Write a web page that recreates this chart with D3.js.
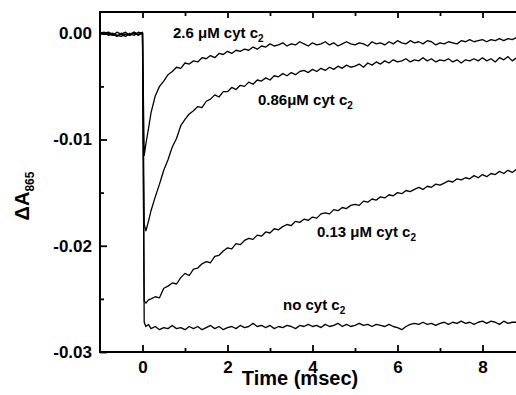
<!DOCTYPE html>
<html><head><meta charset="utf-8">
<script src="https://cdn.jsdelivr.net/npm/d3@7"></script>
<style>
body{margin:0;background:#fff}
svg{display:block}
text{font-family:"Liberation Sans",Arial,Helvetica,sans-serif;font-weight:bold;fill:#000}
</style>
</head><body>
<svg id="chart" width="516" height="395"></svg>
<script>
// time axis (ms)
const timeMs = [
 -1.0,-0.9,-0.8,-0.7,-0.6,-0.5,-0.4,-0.3,-0.2,-0.1,0.0,
 0.04,0.08,0.14,
 0.2,0.3,0.4,0.5,0.6,0.7,0.8,0.9,1.0,
 1.1,1.2,1.3,1.4,1.5,1.6,1.7,1.8,1.9,2.0,
 2.1,2.2,2.3,2.4,2.5,2.6,2.7,2.8,2.9,3.0,
 3.1,3.2,3.3,3.4,3.5,3.6,3.7,3.8,3.9,4.0,
 4.1,4.2,4.3,4.4,4.5,4.6,4.7,4.8,4.9,5.0,
 5.1,5.2,5.3,5.4,5.5,5.6,5.7,5.8,5.9,6.0,
 6.1,6.2,6.3,6.4,6.5,6.6,6.7,6.8,6.9,7.0,
 7.1,7.2,7.3,7.4,7.5,7.6,7.7,7.8,7.9,8.0,
 8.1,8.2,8.3,8.4,8.5,8.6,8.7,8.8
];
// ΔA865 traces
const cyt26 = [
 0.0001,-0.0001,0,-0.0002,0.0001,-0.0001,-0.0003,0,-0.0002,0.0001,0,
 -0.0115,-0.0104,-0.0090,
 -0.0075,-0.0059,-0.0050,-0.0045,-0.0039,-0.0036,-0.0032,-0.0033,-0.0028,
 -0.0029,-0.0026,-0.0027,-0.0023,-0.0024,-0.0021,-0.0023,-0.0019,-0.0020,-0.0017,
 -0.0019,-0.0016,-0.0017,-0.0015,-0.0016,-0.0013,-0.0015,-0.0012,-0.0013,-0.0010,
 -0.0012,-0.0011,-0.0009,-0.0012,-0.0010,-0.0011,-0.0008,-0.0010,-0.0012,-0.0009,
 -0.0011,-0.0010,-0.0008,-0.0011,-0.0009,-0.0012,-0.0010,-0.0008,-0.0010,-0.0011,
 -0.0009,-0.0010,-0.0012,-0.0008,-0.0010,-0.0009,-0.0011,-0.0008,-0.0010,-0.0007,
 -0.0009,-0.0010,-0.0007,-0.0009,-0.0008,-0.0010,-0.0007,-0.0008,-0.0011,-0.0009,
 -0.0010,-0.0008,-0.0009,-0.0010,-0.0007,-0.0008,-0.0006,-0.0008,-0.0007,-0.0006,
 -0.0008,-0.0006,-0.0007,-0.0005,-0.0007,-0.0005,-0.0006,-0.0004
];
const cyt086 = [
 0,0.0001,-0.0002,-0.0001,-0.0003,0,-0.0001,-0.0002,0.0001,-0.0001,0,
 -0.0180,-0.0186,-0.0177,
 -0.0167,-0.0154,-0.0142,-0.0129,-0.0119,-0.0107,-0.0099,-0.0087,-0.0081,
 -0.0076,-0.0073,-0.0069,-0.0070,-0.0064,-0.0062,-0.0058,-0.0060,-0.0055,-0.0055,
 -0.0051,-0.0053,-0.0049,-0.0050,-0.0046,-0.0048,-0.0044,-0.0045,-0.0042,-0.0044,
 -0.0040,-0.0041,-0.0038,-0.0040,-0.0037,-0.0039,-0.0036,-0.0035,-0.0037,-0.0034,
 -0.0036,-0.0033,-0.0035,-0.0032,-0.0034,-0.0031,-0.0033,-0.0030,-0.0032,-0.0031,
 -0.0029,-0.0032,-0.0028,-0.0030,-0.0027,-0.0029,-0.0026,-0.0028,-0.0025,-0.0027,
 -0.0026,-0.0024,-0.0027,-0.0025,-0.0026,-0.0023,-0.0026,-0.0024,-0.0027,-0.0025,
 -0.0026,-0.0024,-0.0027,-0.0025,-0.0028,-0.0025,-0.0026,-0.0024,-0.0026,-0.0023,
 -0.0026,-0.0024,-0.0027,-0.0023,-0.0025,-0.0022,-0.0026,-0.0023
];
const cyt013 = [
 -0.0001,0,0.0001,-0.0001,-0.0002,-0.0001,0.0001,-0.0002,0,-0.0001,0,
 -0.0252,-0.0254,-0.0251,
 -0.0250,-0.0248,-0.0249,-0.0240,-0.0238,-0.0235,-0.0236,-0.0230,-0.0226,
 -0.0228,-0.0222,-0.0221,-0.0217,-0.0215,-0.0216,-0.0210,-0.0209,-0.0205,-0.0202,
 -0.0203,-0.0198,-0.0199,-0.0195,-0.0193,-0.0194,-0.0190,-0.0191,-0.0187,-0.0188,
 -0.0184,-0.0185,-0.0182,-0.0180,-0.0181,-0.0177,-0.0178,-0.0175,-0.0176,-0.0173,
 -0.0174,-0.0170,-0.0169,-0.0170,-0.0166,-0.0167,-0.0164,-0.0165,-0.0162,-0.0161,
 -0.0162,-0.0158,-0.0159,-0.0156,-0.0157,-0.0154,-0.0155,-0.0152,-0.0153,-0.0150,
 -0.0151,-0.0148,-0.0149,-0.0147,-0.0145,-0.0147,-0.0144,-0.0145,-0.0142,-0.0143,
 -0.0141,-0.0139,-0.0140,-0.0137,-0.0138,-0.0136,-0.0137,-0.0134,-0.0136,-0.0133,
 -0.0135,-0.0132,-0.0133,-0.0130,-0.0132,-0.0129,-0.0131,-0.0128
];
const noCyt = [
 0.0001,-0.0001,-0.0001,0,-0.0002,-0.0003,-0.0001,-0.0001,0.0001,-0.0002,0.0001,
 -0.0272,-0.0276,-0.0274,
 -0.0278,-0.0276,-0.0279,-0.0277,-0.0278,-0.0275,-0.0278,-0.0277,-0.0279,
 -0.0276,-0.0278,-0.0276,-0.0279,-0.0277,-0.0275,-0.0278,-0.0276,-0.0279,-0.0277,
 -0.0276,-0.0278,-0.0275,-0.0277,-0.0276,-0.0273,-0.0276,-0.0275,-0.0277,-0.0275,
 -0.0278,-0.0276,-0.0277,-0.0275,-0.0276,-0.0278,-0.0275,-0.0276,-0.0274,-0.0276,
 -0.0275,-0.0277,-0.0274,-0.0276,-0.0275,-0.0273,-0.0276,-0.0274,-0.0276,-0.0275,
 -0.0273,-0.0275,-0.0274,-0.0276,-0.0274,-0.0275,-0.0276,-0.0274,-0.0276,-0.0277,
 -0.0279,-0.0276,-0.0274,-0.0273,-0.0274,-0.0272,-0.0274,-0.0273,-0.0275,-0.0273,
 -0.0272,-0.0274,-0.0272,-0.0273,-0.0271,-0.0273,-0.0272,-0.0274,-0.0272,-0.0271,
 -0.0273,-0.0271,-0.0272,-0.0274,-0.0271,-0.0273,-0.0272,-0.0272
];
const seriesNames = ["2.6 μM cyt c", "0.86μM cyt c", "0.13 μM cyt c", "no cyt c"];
const xMajorTicks = [0, 2, 4, 6, 8];
const xMinorTicks = [1, 3, 5, 7];
const yMajorTicks = [0, -0.01, -0.02, -0.03];
const yMinorTicks = [-0.005, -0.015, -0.025];
const yTickLabels = ["0.00", "-0.01", "-0.02", "-0.03"];

const svg = d3.select("#chart");
const L = 100, R = 516.5, T = 12, B = 352;
const x = d3.scaleLinear().domain([-1, 8.8]).range([L, R]);
const y = d3.scaleLinear().domain([-0.03, 0.002]).range([B, T]);

svg.append("defs").append("clipPath").attr("id", "clip")
  .append("rect").attr("x", L).attr("y", T).attr("width", R - L).attr("height", B - T);

// traces
const line = d3.line().x(d => x(d[0])).y(d => y(d[1]));
const traces = [cyt26, cyt086, cyt013, noCyt];
svg.append("g").attr("clip-path", "url(#clip)")
  .selectAll("path").data(traces).join("path")
  .attr("d", vals => line(timeMs.map((t, i) => [t, vals[i]])))
  .attr("fill", "none").attr("stroke", "#000").attr("stroke-width", 1.3)
  .attr("stroke-linejoin", "round");

// axes
function styleAxis(g) {
  g.select(".domain").remove();
  g.selectAll(".tick line").attr("stroke", "#000").attr("stroke-width", 1.8);
  g.selectAll(".tick text").style("font-size", "17px").attr("fill", "#000");
}
svg.append("g").attr("transform", `translate(0,${B})`)
  .call(d3.axisBottom(x).tickValues(xMajorTicks).tickSizeInner(-7).tickSizeOuter(0).tickPadding(9).tickFormat(d3.format("d")))
  .call(styleAxis);
svg.append("g").attr("transform", `translate(0,${B})`)
  .call(d3.axisBottom(x).tickValues(xMinorTicks).tickSizeInner(-4).tickSizeOuter(0).tickFormat(""))
  .call(styleAxis);
svg.append("g").attr("transform", `translate(0,${T})`)
  .call(d3.axisTop(x).tickValues(xMajorTicks).tickSizeInner(-6).tickSizeOuter(0).tickFormat(""))
  .call(styleAxis);
svg.append("g").attr("transform", `translate(0,${T})`)
  .call(d3.axisTop(x).tickValues(xMinorTicks).tickSizeInner(-4).tickSizeOuter(0).tickFormat(""))
  .call(styleAxis);
svg.append("g").attr("transform", `translate(${L},0)`)
  .call(d3.axisLeft(y).tickValues(yMajorTicks).tickSizeInner(-7).tickSizeOuter(0).tickPadding(8)
    .tickFormat((d, i) => yTickLabels[i]))
  .call(styleAxis);
svg.append("g").attr("transform", `translate(${L},0)`)
  .call(d3.axisLeft(y).tickValues(yMinorTicks).tickSizeInner(-4).tickSizeOuter(0).tickFormat(""))
  .call(styleAxis);

// frame (left, bottom, top)
svg.append("path")
  .attr("d", `M${R},${T}H${L}V${B}H${R}`)
  .attr("fill", "none").attr("stroke", "#000").attr("stroke-width", 2);

// axis titles
svg.append("text").attr("x", 300).attr("y", 385).attr("text-anchor", "middle")
  .style("font-size", "20px").text("Time (msec)");
const yt = svg.append("text").attr("transform", "translate(29,196) rotate(-90)")
  .attr("text-anchor", "middle").style("font-size", "20px");
yt.append("tspan").text("ΔA");
yt.append("tspan").style("font-size", "12px").attr("dy", 5).text("865");

// annotations
const labelPos = [[173, 38], [258, 105], [317, 237], [283, 310]];
seriesNames.forEach((s, i) => {
  const t = svg.append("text").attr("x", labelPos[i][0]).attr("y", labelPos[i][1]).style("font-size", "15px");
  t.append("tspan").text(s);
  t.append("tspan").style("font-size", "10px").attr("dy", 4).text("2");
});
</script>
</body></html>
